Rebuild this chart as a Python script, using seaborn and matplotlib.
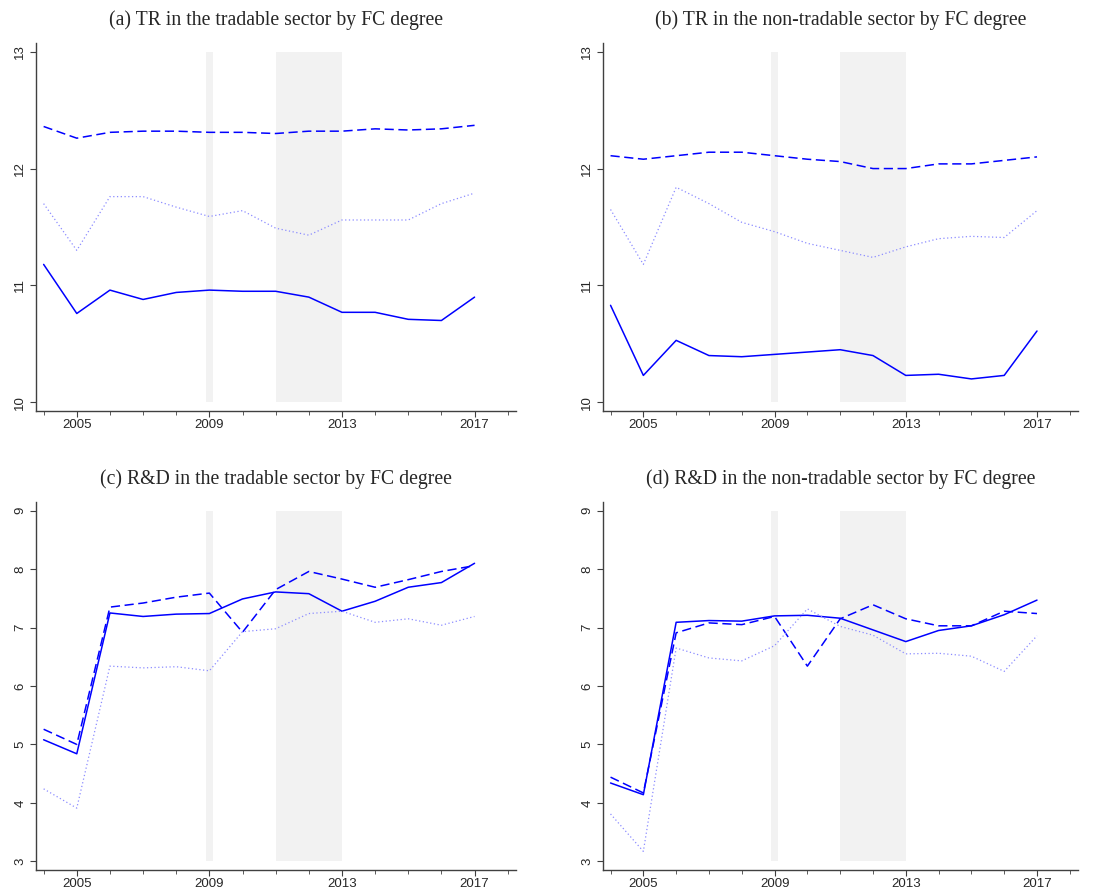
import pandas as pd
import matplotlib.pyplot as plt
import seaborn as sns
from matplotlib.ticker import FixedLocator

# --- data ---
years = list(range(2004, 2018))

# (a) TR, tradable sector
tr_trad_solid = [11.18, 10.76, 10.96, 10.88, 10.94, 10.96, 10.95, 10.95, 10.90, 10.77, 10.77, 10.71, 10.70, 10.90]
tr_trad_dash = [12.36, 12.26, 12.31, 12.32, 12.32, 12.31, 12.31, 12.30, 12.32, 12.32, 12.34, 12.33, 12.34, 12.37]
tr_trad_dot = [11.70, 11.30, 11.76, 11.76, 11.67, 11.59, 11.64, 11.49, 11.43, 11.56, 11.56, 11.56, 11.70, 11.79]

# (b) TR, non-tradable sector
tr_non_solid = [10.83, 10.23, 10.53, 10.40, 10.39, 10.41, 10.43, 10.45, 10.40, 10.23, 10.24, 10.20, 10.23, 10.61]
tr_non_dash = [12.11, 12.08, 12.11, 12.14, 12.14, 12.11, 12.08, 12.06, 12.00, 12.00, 12.04, 12.04, 12.07, 12.10]
tr_non_dot = [11.65, 11.18, 11.84, 11.70, 11.54, 11.46, 11.36, 11.30, 11.24, 11.33, 11.40, 11.42, 11.41, 11.64]

# (c) R&D, tradable sector
rd_trad_solid = [5.08, 4.84, 7.25, 7.19, 7.23, 7.24, 7.49, 7.61, 7.58, 7.28, 7.45, 7.69, 7.77, 8.10]
rd_trad_dash = [5.26, 5.00, 7.35, 7.42, 7.52, 7.59, 6.92, 7.65, 7.96, 7.83, 7.69, 7.82, 7.96, 8.06]
rd_trad_dot = [4.24, 3.91, 6.34, 6.31, 6.33, 6.26, 6.93, 6.98, 7.24, 7.28, 7.09, 7.15, 7.04, 7.19]

# (d) R&D, non-tradable sector
rd_non_solid = [4.34, 4.14, 7.09, 7.12, 7.11, 7.20, 7.21, 7.16, 6.96, 6.76, 6.95, 7.03, 7.22, 7.47]
rd_non_dash = [4.44, 4.17, 6.91, 7.08, 7.05, 7.19, 6.34, 7.15, 7.39, 7.15, 7.03, 7.03, 7.28, 7.24]
rd_non_dot = [3.81, 3.17, 6.65, 6.48, 6.43, 6.69, 7.32, 7.02, 6.87, 6.55, 6.56, 6.51, 6.25, 6.86]

titles = [
    "(a) TR in the tradable sector by FC degree",
    "(b) TR in the non-tradable sector by FC degree",
    "(c) R&D in the tradable sector by FC degree",
    "(d) R&D in the non-tradable sector by FC degree",
]
panels = [
    (tr_trad_solid, tr_trad_dash, tr_trad_dot),
    (tr_non_solid, tr_non_dash, tr_non_dot),
    (rd_trad_solid, rd_trad_dash, rd_trad_dot),
    (rd_non_solid, rd_non_dash, rd_non_dot),
]
y_ranges = [(10, 13), (10, 13), (3, 9), (3, 9)]
shaded = [(2008.9, 2009.1), (2011.0, 2013.0)]
x_labels = [2005, 2009, 2013, 2017]

sns.set_style("ticks")
plt.rcParams["font.family"] = ["Liberation Sans", "DejaVu Sans"]

fig = plt.figure(figsize=(11.15, 8.9), dpi=100)
W, H = 1115, 890
boxes = [(36, 43, 516, 411), (603, 43, 1078, 411),
         (36, 502, 516, 870), (603, 502, 1078, 870)]

spine_col = "#404040"
styles = [
    dict(color="#0000ff", linestyle="-", linewidth=1.1),
    dict(color="#0000ff", linestyle=(0, (6, 3)), linewidth=1.1),
    dict(color="#8c8cff", linestyle=(0, (1, 2)), linewidth=0.9),
]

for i, (box, title, series, yr) in enumerate(zip(boxes, titles, panels, y_ranges)):
    x0, y0, x1, y1 = box
    ax = fig.add_axes([x0 / W, 1 - y1 / H, (x1 - x0) / W, (y1 - y0) / H])

    df = pd.DataFrame({"year": years})
    for vals, st in zip(series, styles):
        df["v"] = vals
        sns.lineplot(data=df, x="year", y="v", ax=ax, **st)

    # grey bands for the crisis periods
    for a, b in shaded:
        ax.fill_between([a, b], yr[0], yr[1], color="#f2f2f2", linewidth=0, zorder=0)

    # axis limits with a fixed ~9 px padding like the original
    ax_h = y1 - y0 - 2 * 8.7
    pad = (yr[1] - yr[0]) * 8.7 / ax_h
    ax.set_ylim(yr[0] - pad, yr[1] + pad)
    ax.set_xlim(2003.77, 2018.25)

    ax.xaxis.set_major_locator(FixedLocator(x_labels))
    ax.xaxis.set_minor_locator(FixedLocator(range(2004, 2019)))
    ax.set_yticks(range(yr[0], yr[1] + 1))
    ax.tick_params(axis="y", labelrotation=90, labelsize=9.5, length=4, width=0.8,
                   color=spine_col, pad=3)
    for lab in ax.get_yticklabels():
        lab.set_va("center")
    ax.tick_params(axis="x", which="major", labelsize=9.5, length=4, width=0.8,
                   color=spine_col, pad=2)
    ax.tick_params(axis="x", which="minor", length=3, width=0.6, color=spine_col)

    ax.set_xlabel("")
    ax.set_ylabel("")
    sns.despine(ax=ax)
    for side in ["left", "bottom"]:
        ax.spines[side].set_color(spine_col)
        ax.spines[side].set_linewidth(1.0)

    ax.set_title(title, fontsize=14.2, family="Liberation Serif", pad=13)

plt.savefig("out.png", dpi=100)
